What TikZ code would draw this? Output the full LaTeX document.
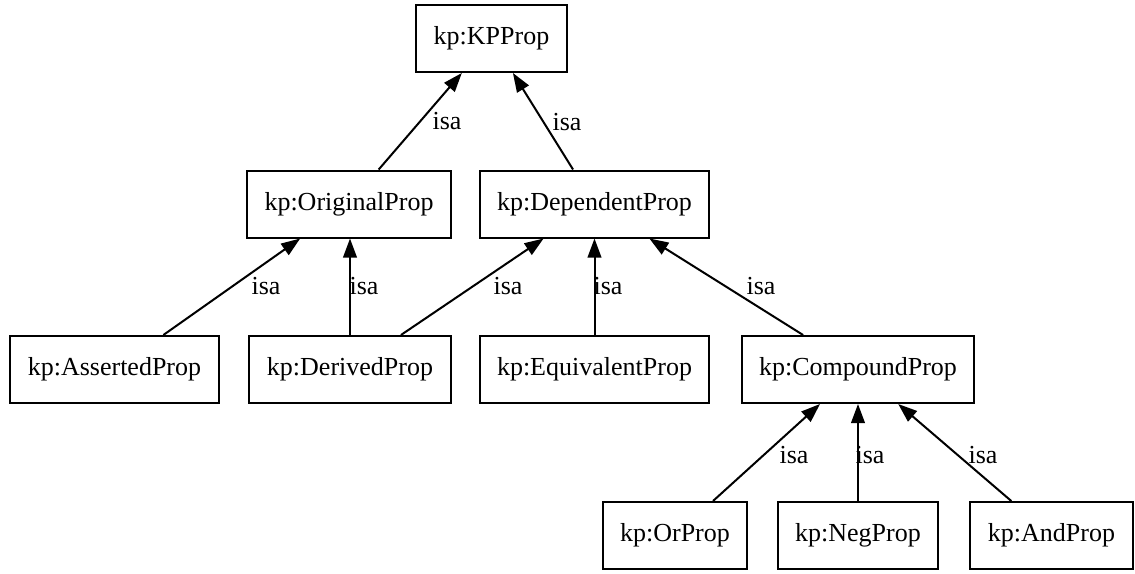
\documentclass[tikz,border=0pt]{standalone}
\usepackage{fontspec}
\setmainfont{Liberation Serif}
\usetikzlibrary{arrows.meta}

\begin{document}
\begin{tikzpicture}[x=0.5pt,y=-0.5pt,
  every node/.style={font=\fontsize{13}{15}\selectfont},
  classbox/.style={draw,rectangle,line width=1pt,minimum height=33.5pt,inner xsep=8.75pt},
  isalabel/.style={inner sep=0pt},
  isaedge/.style={line width=1pt,-{Triangle[length=9.5pt,width=6.8pt]}}]
\path[fill=white,use as bounding box] (0,0) rectangle (1135,573);
\node[classbox] (kpprop) at (491.5,38.5) {kp:KPProp};
\node[classbox] (original) at (349,204) {kp:OriginalProp};
\node[classbox] (dependent) at (594.5,204) {kp:DependentProp};
\node[classbox] (asserted) at (114.5,369.5) {kp:AssertedProp};
\node[classbox] (derived) at (350,369.5) {kp:DerivedProp};
\node[classbox] (equivalent) at (594.5,369.5) {kp:EquivalentProp};
\node[classbox] (compound) at (858,369.5) {kp:CompoundProp};
\node[classbox] (orprop) at (675,535.5) {kp:OrProp};
\node[classbox] (negprop) at (858,535.5) {kp:NegProp};
\node[classbox] (andprop) at (1051.5,535.5) {kp:AndProp};

\draw[isaedge] (original) -- (kpprop);
\draw[isaedge] (dependent) -- (kpprop);
\draw[isaedge] (asserted) -- (original);
\draw[isaedge] (derived) -- (derived |- original.south);
\draw[isaedge] (derived) -- (dependent);
\draw[isaedge] (equivalent) -- (dependent);
\draw[isaedge] (compound) -- (dependent);
\draw[isaedge] (orprop) -- (compound);
\draw[isaedge] (negprop) -- (compound);
\draw[isaedge] (andprop) -- (compound);

\node[isalabel] (l1) at (447,121) {isa};
\node[isalabel] (l2) at (567,122) {isa};
\node[isalabel] (l3) at (266,286) {isa};
\node[isalabel] (l4) at (364,286) {isa};
\node[isalabel] (l5) at (508,286) {isa};
\node[isalabel] (l6) at (608,286) {isa};
\node[isalabel] (l7) at (761,286) {isa};
\node[isalabel] (l8) at (794,455) {isa};
\node[isalabel] (l9) at (870,455) {isa};
\node[isalabel] (l10) at (983,455) {isa};
\end{tikzpicture}
\end{document}
